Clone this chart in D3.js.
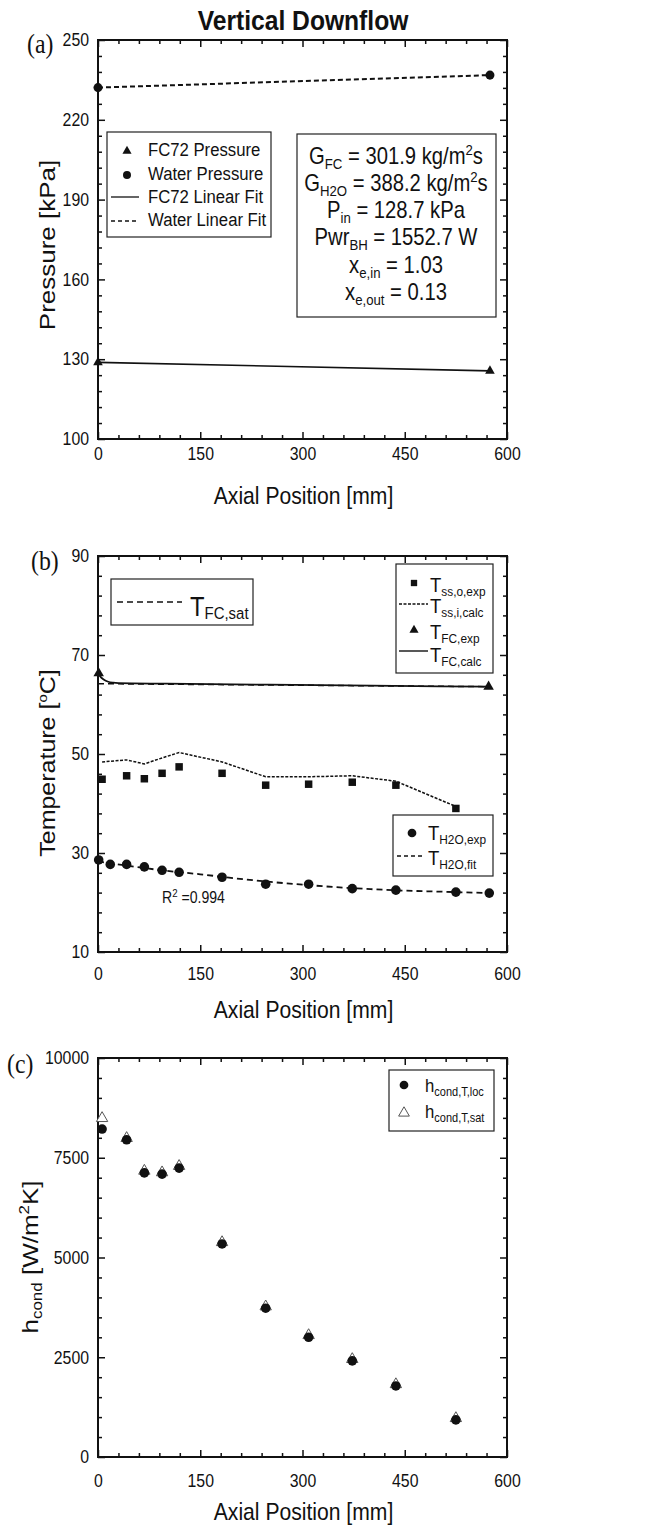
<!DOCTYPE html>
<html>
<head>
<meta charset="utf-8">
<script src="https://cdn.jsdelivr.net/npm/d3@7"></script>
<style>
  body { margin: 0; background: #fff; }
  svg { display: block; }
</style>
</head>
<body>
<svg id="chart" width="646" height="1529"></svg>
<script>
// ---- data ----
const xTicks = [0, 150, 300, 450, 600];
const pTicks = [100, 130, 160, 190, 220, 250];
const tTicks = [10, 30, 50, 70, 90];
const hTicks = [0, 2500, 5000, 7500, 10000];

// (a) pressures
const pressPos = [0, 575];
const fcPressure = [128.8, 125.6];
const waterPressure = [232.1, 236.8];

// (b) temperatures
const tcPos = [6, 42, 68, 94, 119, 182, 246, 309, 373, 437, 525];
const tssExp = [44.9, 45.6, 45.0, 46.1, 47.4, 46.1, 43.7, 43.9, 44.3, 43.7, 39.0];
const tssCalc = [48.4, 48.8, 48.0, 49.2, 50.3, 48.4, 45.4, 45.4, 45.6, 44.5, 39.4];
const waterPos = [1, 18, 42, 68, 94, 119, 182, 246, 309, 373, 437, 525, 574];
const tWaterExp = [28.6, 27.7, 27.7, 27.2, 26.5, 26.1, 25.1, 23.7, 23.7, 22.8, 22.5, 22.1, 21.9];
const fitPos = [0, 50, 100, 150, 200, 250, 300, 350, 400, 450, 500, 575];
const tWaterFit = [28.3, 27.3, 26.4, 25.7, 24.9, 24.2, 23.6, 23.1, 22.7, 22.4, 22.2, 21.9];
const fcExpPos = [1, 573];
const tFcExp = [66.3, 63.6];
const fcCalcPos = [0, 5, 10, 15, 22, 30, 100, 250, 400, 575];
const tFcCalc = [66.2, 65.4, 64.9, 64.6, 64.4, 64.3, 64.2, 64.0, 63.8, 63.6];
const satPos = [0, 575];
const tFcSat = [64.2, 63.6];

// (c) heat transfer coefficient
const hLoc = [8220, 7950, 7120, 7090, 7240, 5340, 3730, 3000, 2410, 1780, 930];
const hSat = [8490, 7990, 7170, 7130, 7290, 5380, 3770, 3050, 2450, 1820, 970];

// ---- drawing ----
const SANS = "'Liberation Sans', Arial, sans-serif";
const SERIF = "'Liberation Serif', 'Times New Roman', serif";
const SX = 0.88; // the figure is a little squeezed horizontally
const LEFT = 98, RIGHT = 507;

const svg = d3.select("#chart");

// text with sub/superscripts: parts = [[string, ""|"sub"|"sup"], ...]
function rich(x, y, parts, o) {
  const size = o.size;
  const small = o.small || size * 0.65;
  const g = svg.append("g")
    .attr("transform", `translate(${x},${y}) scale(${SX},1)` + (o.rotate ? " rotate(-90)" : ""));
  const t = g.append("text")
    .attr("text-anchor", o.anchor || "start")
    .attr("font-family", o.family || SANS)
    .attr("font-weight", o.weight || "normal")
    .attr("font-size", size)
    .attr("fill", "#111");
  let shift = 0;
  parts.forEach(([s, k]) => {
    const target = k === "sub" ? (o.subDy || size * 0.2) : k === "sup" ? -size * 0.38 : 0;
    t.append("tspan")
      .attr("font-size", k ? small : size)
      .attr("dy", target - shift)
      .text(s);
    shift = target;
  });
  return t;
}

function panel(cfg) {
  const x = d3.scaleLinear().domain([0, 600]).range([LEFT, RIGHT]);
  const y = d3.scaleLinear().domain(cfg.yDomain).range([cfg.bottom, cfg.top]);
  const g = svg.append("g");

  const xMinor = d3.range(0, 601, 30).filter(v => v % 150 !== 0);
  const yMinor = d3.range(cfg.yDomain[0], cfg.yDomain[1] + 1e-9, cfg.yMinor)
    .filter(v => !cfg.yTicks.includes(v));

  const clean = sel => {
    sel.select(".domain").remove();
    sel.selectAll("line").attr("stroke", "#111").attr("stroke-width", 1.5);
  };

  // bottom
  g.append("g").attr("transform", `translate(0,${cfg.bottom})`)
    .call(d3.axisBottom(x).tickValues(xTicks).tickSize(-7).tickPadding(cfg.xPad).tickFormat(d3.format("d")))
    .call(clean)
    .call(a => a.selectAll("text")
      .attr("font-family", SANS).attr("font-size", 18).attr("fill", "#111")
      .attr("transform", `scale(${SX},1)`));
  g.append("g").attr("transform", `translate(0,${cfg.bottom})`)
    .call(d3.axisBottom(x).tickValues(xMinor).tickSize(-4).tickFormat(""))
    .call(clean);
  // top
  g.append("g").attr("transform", `translate(0,${cfg.top})`)
    .call(d3.axisTop(x).tickValues(xTicks).tickSize(-7).tickFormat(""))
    .call(clean);
  g.append("g").attr("transform", `translate(0,${cfg.top})`)
    .call(d3.axisTop(x).tickValues(xMinor).tickSize(-4).tickFormat(""))
    .call(clean);
  // left
  g.append("g").attr("transform", `translate(${LEFT},0)`)
    .call(d3.axisLeft(y).tickValues(cfg.yTicks).tickSize(-7).tickPadding(9).tickFormat(d3.format("d")))
    .call(clean)
    .call(a => a.selectAll("text")
      .attr("font-family", SANS).attr("font-size", 18).attr("fill", "#111")
      .attr("x", -9 / SX)
      .attr("transform", `scale(${SX},1)`));
  g.append("g").attr("transform", `translate(${LEFT},0)`)
    .call(d3.axisLeft(y).tickValues(yMinor).tickSize(-4).tickFormat(""))
    .call(clean);
  // right
  g.append("g").attr("transform", `translate(${RIGHT},0)`)
    .call(d3.axisRight(y).tickValues(cfg.yTicks).tickSize(-7).tickFormat(""))
    .call(clean);
  g.append("g").attr("transform", `translate(${RIGHT},0)`)
    .call(d3.axisRight(y).tickValues(yMinor).tickSize(-4).tickFormat(""))
    .call(clean);

  // frame
  g.append("rect")
    .attr("x", LEFT).attr("y", cfg.top)
    .attr("width", RIGHT - LEFT).attr("height", cfg.bottom - cfg.top)
    .attr("fill", "none").attr("stroke", "#111").attr("stroke-width", 2);

  // x title
  rich((LEFT + RIGHT) / 2 + 1, cfg.xTitleY, [["Axial Position [mm]", ""]], { size: 24, anchor: "middle" });
  // panel letter
  rich(cfg.letterX, cfg.letterY, [[cfg.letter, ""]], { size: 27, family: SERIF });

  return { x, y };
}

const tri = d3.symbol().type(d3.symbolTriangle);
const dot = d3.symbol().type(d3.symbolCircle);
const sq = d3.symbol().type(d3.symbolSquare);

function marks(xs, ys, sx, sy, shape, size, fill, stroke) {
  svg.append("g").selectAll("path")
    .data(xs.map((v, i) => [v, ys[i]]))
    .join("path")
    .attr("transform", d => `translate(${sx(d[0])},${sy(d[1])})`)
    .attr("d", shape.size(size)())
    .attr("fill", fill || "#111")
    .attr("stroke", stroke || "none")
    .attr("stroke-width", 1);
}

function curve(xs, ys, sx, sy, dash, width, curveType) {
  const line = d3.line().x(d => sx(d[0])).y(d => sy(d[1])).curve(curveType || d3.curveLinear);
  svg.append("path")
    .datum(xs.map((v, i) => [v, ys[i]]))
    .attr("d", line)
    .attr("fill", "none")
    .attr("stroke", "#111")
    .attr("stroke-width", width || 1.5)
    .attr("stroke-dasharray", dash || null);
}

function box(x0, y0, x1, y1) {
  svg.append("rect")
    .attr("x", x0).attr("y", y0).attr("width", x1 - x0).attr("height", y1 - y0)
    .attr("fill", "#fff").attr("stroke", "#222").attr("stroke-width", 1.2);
}

function sample(x0, x1, yy, dash, width) {
  svg.append("line").attr("x1", x0).attr("x2", x1).attr("y1", yy).attr("y2", yy)
    .attr("stroke", "#111").attr("stroke-width", width || 1.5)
    .attr("stroke-dasharray", dash || null);
}

function sym(shape, size, cx, cy, fill, stroke) {
  svg.append("path").attr("transform", `translate(${cx},${cy})`)
    .attr("d", shape.size(size)()).attr("fill", fill || "#111")
    .attr("stroke", stroke || "none").attr("stroke-width", 1);
}

// title
rich(303, 30, [["Vertical Downflow", ""]], { size: 28, anchor: "middle", weight: "bold" });

// ================= (a) =================
const A = panel({ top: 40, bottom: 439, yDomain: [100, 250], yTicks: pTicks, yMinor: 6,
  xPad: 8, xTitleY: 504, letter: "(a)", letterX: 27, letterY: 53 });

curve(pressPos, waterPressure, A.x, A.y, "5,3", 2);
curve(pressPos, fcPressure, A.x, A.y, null, 1.6);
marks(pressPos, waterPressure, A.x, A.y, dot, 64);
marks(pressPos, fcPressure, A.x, A.y, tri, 40);

rich(55, 245, [["Pressure [kPa]", ""]], { size: 26, anchor: "middle", rotate: true });

// legend (a)
box(107, 132, 271, 237);
sym(tri, 36, 127, 151);
sym(dot, 50, 127, 175);
sample(111, 139, 197, null, 1.3);
sample(111, 139, 221, "4,3", 1.5);
rich(148, 156, [["FC72 Pressure", ""]], { size: 19 });
rich(148, 180, [["Water Pressure", ""]], { size: 19 });
rich(148, 203, [["FC72 Linear Fit", ""]], { size: 19 });
rich(148, 226, [["Water Linear Fit", ""]], { size: 19 });

// conditions box
box(297, 134, 496, 317);
const cOpt = { size: 23, anchor: "middle", small: 15, subDy: 5 };
rich(396, 164, [["G", ""], ["FC", "sub"], [" = 301.9 kg/m", ""], ["2", "sup"], ["s", ""]], cOpt);
rich(396, 191, [["G", ""], ["H2O", "sub"], [" = 388.2 kg/m", ""], ["2", "sup"], ["s", ""]], cOpt);
rich(396, 218, [["P", ""], ["in", "sub"], [" = 128.7 kPa", ""]], cOpt);
rich(396, 245, [["Pwr", ""], ["BH", "sub"], [" = 1552.7 W", ""]], cOpt);
rich(396, 273, [["x", ""], ["e,in", "sub"], [" = 1.03", ""]], cOpt);
rich(396, 300, [["x", ""], ["e,out", "sub"], [" = 0.13", ""]], cOpt);

// ================= (b) =================
const B = panel({ top: 556, bottom: 952, yDomain: [10, 90], yTicks: tTicks, yMinor: 4,
  xPad: 15, xTitleY: 1018, letter: "(b)", letterX: 31, letterY: 570 });

curve(satPos, tFcSat, B.x, B.y, "6,4", 1.5);
curve(fcCalcPos, tFcCalc, B.x, B.y, null, 1.8, d3.curveMonotoneX);
curve(tcPos, tssCalc, B.x, B.y, "3,1.5", 1.5);
curve(fitPos, tWaterFit, B.x, B.y, "6,4", 1.8, d3.curveMonotoneX);
marks(tcPos, tssExp, B.x, B.y, sq, 56);
marks(fcExpPos, tFcExp, B.x, B.y, tri, 48);
marks(waterPos, tWaterExp, B.x, B.y, dot, 72);

rich(162, 903, [["R", ""], ["2", "sup"], [" =0.994", ""]], { size: 16, small: 11 });

rich(55, 763, [["Temperature [", ""], ["o", "sup"], ["C]", ""]], { size: 25, anchor: "middle", rotate: true, small: 15 });

// legend T_FC,sat
box(111, 579, 253, 625);
sample(117, 182, 602, "6,4", 1.4);
rich(190, 616, [["T", ""], ["FC,sat", "sub"]], { size: 27, small: 17, subDy: 3 });

// legend top right
box(396, 564, 493, 673);
const lOpt = { size: 21, small: 13.5, subDy: 4 };
sym(sq, 40, 414, 583);
rich(430, 592, [["T", ""], ["ss,o,exp", "sub"]], lOpt);
sample(399, 428, 604, "3,1.5", 1.4);
rich(430, 613, [["T", ""], ["ss,i,calc", "sub"]], lOpt);
sym(tri, 36, 414, 630);
rich(430, 639, [["T", ""], ["FC,exp", "sub"]], lOpt);
sample(399, 428, 651, null, 1.4);
rich(430, 662, [["T", ""], ["FC,calc", "sub"]], lOpt);

// legend bottom right
box(393, 815, 493, 876);
sym(dot, 60, 412, 833);
rich(428, 840, [["T", ""], ["H2O,exp", "sub"]], lOpt);
sample(397, 425, 856, "4,3", 1.4);
rich(428, 865, [["T", ""], ["H2O,fit", "sub"]], lOpt);

// ================= (c) =================
const C = panel({ top: 1058, bottom: 1457, yDomain: [0, 10000], yTicks: hTicks, yMinor: 500,
  xPad: 17, xTitleY: 1520, letter: "(c)", letterX: 7, letterY: 1073 });

marks(tcPos, hSat, C.x, C.y, tri, 56, "#fff", "#555");
marks(tcPos, hLoc, C.x, C.y, dot, 72);

rich(38, 1257, [["h", ""], ["cond", "sub"], [" [W/m", ""], ["2", "sup"], ["K]", ""]],
  { size: 26, anchor: "middle", rotate: true, small: 17, subDy: 5 });

// legend (c)
box(389, 1070, 494, 1131);
sym(dot, 60, 404, 1085);
rich(425, 1092, [["h", ""], ["cond,T,loc", "sub"]], { size: 19, small: 12.5, subDy: 4 });
sym(tri, 50, 404, 1113, "#fff", "#555");
rich(425, 1118, [["h", ""], ["cond,T,sat", "sub"]], { size: 19, small: 12.5, subDy: 4 });
</script>
</body>
</html>
